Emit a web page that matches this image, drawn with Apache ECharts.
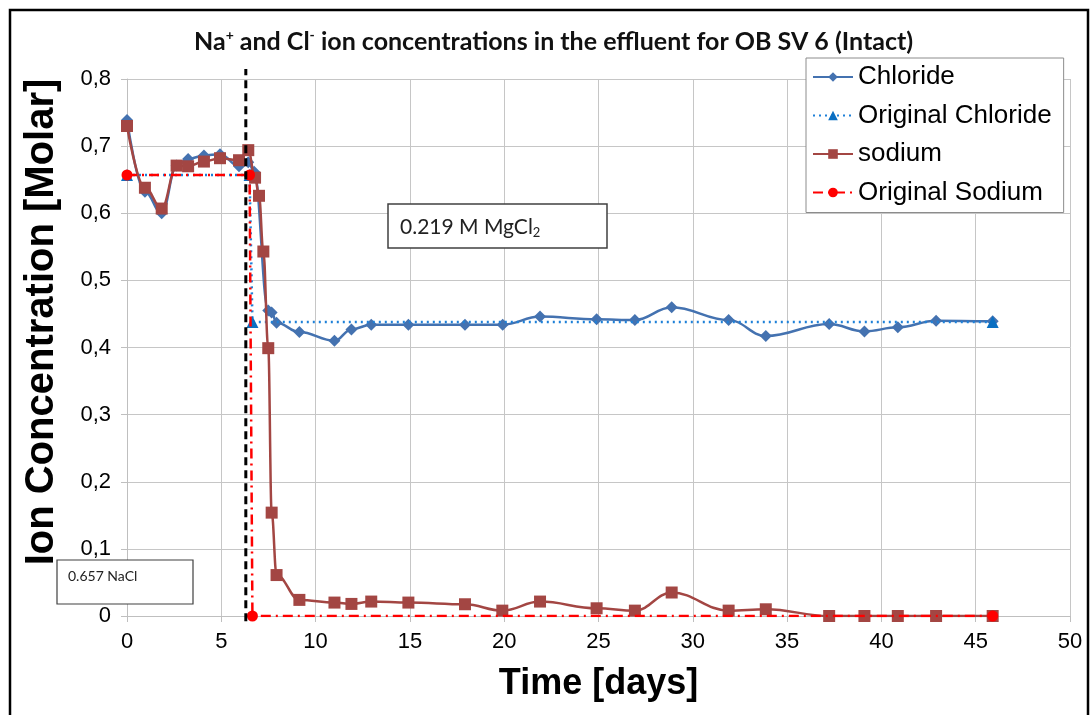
<!DOCTYPE html>
<html>
<head>
<meta charset="utf-8">
<script src="https://cdn.jsdelivr.net/npm/echarts@6/dist/echarts.min.js"></script>
<style>
  html, body { margin: 0; padding: 0; background: #fff; }
  #chart { width: 1092px; height: 715px; }
</style>
</head>
<body>
<div id="chart"></div>
<script>
// Measured effluent concentrations (days since start, Molar)
const chlorideDays = [0, 0.95, 1.84, 2.63, 3.24, 4.08, 4.93, 5.94, 6.43, 6.74, 7.49, 7.67, 7.93, 9.14, 11.0, 11.9, 12.95, 14.92, 17.92, 19.92, 21.9, 24.9, 26.93, 28.88, 31.9, 33.87, 37.23, 39.1, 40.87, 42.9, 45.9];
const chloride     = [0.739, 0.632, 0.600, 0.671, 0.681, 0.686, 0.688, 0.670, 0.676, 0.662, 0.455, 0.452, 0.437, 0.423, 0.410, 0.427, 0.434, 0.434, 0.434, 0.434, 0.446, 0.442, 0.441, 0.460, 0.441, 0.417, 0.435, 0.424, 0.430, 0.440, 0.439];

const sodiumDays = [0, 0.95, 1.84, 2.63, 3.24, 4.08, 4.93, 5.94, 6.43, 6.79, 7.0, 7.23, 7.49, 7.67, 7.93, 9.14, 11.0, 11.9, 12.95, 14.92, 17.92, 19.9, 21.9, 24.9, 26.93, 28.88, 31.9, 33.87, 37.23, 39.1, 40.87, 42.9, 45.9];
const sodium     = [0.730, 0.638, 0.607, 0.671, 0.670, 0.677, 0.682, 0.679, 0.694, 0.653, 0.626, 0.543, 0.399, 0.154, 0.061, 0.024, 0.020, 0.018, 0.0215, 0.020, 0.0175, 0.008, 0.0215, 0.0115, 0.008, 0.035, 0.008, 0.010, 0, 0, 0, 0, 0];

// Injected solution composition (0.657 M NaCl, then 0.219 M MgCl2)
const originalDays     = [0, 6.5, 6.65, 45.9];
const originalChloride = [0.657, 0.657, 0.438, 0.438];
const originalSodium   = [0.657, 0.657, 0, 0];

// Day the feed was switched to MgCl2
const switchDay = 6.3;

const legendNames = ['Chloride', 'Original Chloride', 'sodium', 'Original Sodium'];

const pairs = (xs, ys) => xs.map((x, i) => [x, ys[i]]);

const FONT = 'Liberation Sans, Arial, sans-serif';
const CAL = 'Lato, "Open Sans", sans-serif';

const chart = echarts.init(document.getElementById('chart'), null, { renderer: 'canvas' });

chart.setOption({
  animation: false,
  backgroundColor: '#ffffff',
  title: {
    left: 189,
    top: 23,
    text: '{b|Na}{sup|+}{b| and Cl}{sup|-}{b| ion concentrations in the effluent for OB SV 6 (Intact)}',
    textStyle: {
      rich: {
        b: { fontFamily: CAL, fontWeight: 'bold', fontSize: 25, color: '#111', lineHeight: 28 },
        sup: { fontFamily: CAL, fontWeight: 'bold', fontSize: 14, color: '#111', lineHeight: 14, verticalAlign: 'top' }
      }
    }
  },
  grid: { left: 127, right: 22, top: 79, bottom: 99, containLabel: false },
  legend: {
    orient: 'vertical',
    left: 806,
    top: 58,
    data: legendNames,
    itemWidth: 40,
    itemHeight: 12,
    itemGap: 12.5,
    padding: [6, 12, 7, 6],
    backgroundColor: '#ffffff',
    borderColor: '#8c8c8c',
    borderWidth: 1,
    borderRadius: 0,
    textStyle: { fontFamily: FONT, fontSize: 26, color: '#000', lineHeight: 26 }
  },
  xAxis: {
    type: 'value',
    min: 0,
    max: 50,
    interval: 5,
    name: 'Time [days]',
    nameLocation: 'middle',
    nameGap: 50,
    nameTextStyle: { fontFamily: FONT, fontWeight: 'bold', fontSize: 36, color: '#000' },
    axisLine: { show: true, lineStyle: { color: '#bfbfbf', width: 1 } },
    axisTick: { show: true, length: 6, lineStyle: { color: '#bfbfbf' } },
    axisLabel: { fontFamily: FONT, fontSize: 22, color: '#000', margin: 15 },
    splitLine: { show: true, lineStyle: { color: '#c6c6c6', width: 1 } }
  },
  yAxis: {
    type: 'value',
    min: 0,
    max: 0.8,
    interval: 0.1,
    axisLine: { show: true, lineStyle: { color: '#bfbfbf', width: 1 } },
    axisTick: { show: true, length: 6, lineStyle: { color: '#bfbfbf' } },
    axisLabel: {
      fontFamily: FONT, fontSize: 22, color: '#000', margin: 16,
      formatter: v => (v === 0 ? '0' : v.toFixed(1).replace('.', ','))
    },
    splitLine: { show: true, lineStyle: { color: '#c6c6c6', width: 1 } }
  },
  graphic: [
    // outer frame
    { type: 'rect', silent: true, z: 0, shape: { x: 10, y: 10, width: 1078, height: 730 },
      style: { fill: 'none', stroke: '#000', lineWidth: 2.5 } },
    // y axis title
    { type: 'text', silent: true, x: 42, y: 322, rotation: Math.PI / 2, z: 5,
      style: { text: 'Ion Concentration [Molar]', fontFamily: FONT, fontWeight: 'bold', fontSize: 40,
               fill: '#000', align: 'center', verticalAlign: 'middle' } },
    // MgCl2 annotation
    { type: 'rect', silent: true, z: 20, shape: { x: 388, y: 204, width: 219, height: 44 },
      style: { fill: '#fff', stroke: '#404040', lineWidth: 1.5 } },
    { type: 'text', silent: true, z: 21, x: 400, y: 227,
      style: { text: '{t|0.219 M MgCl}{s|2}', verticalAlign: 'middle', align: 'left',
               rich: { t: { fontFamily: CAL, fontSize: 21, fill: '#222', lineHeight: 24 },
                       s: { fontFamily: CAL, fontSize: 13, fill: '#222', lineHeight: 13, verticalAlign: 'bottom', padding: [10, 0, 0, 0] } } } },
    // NaCl annotation
    { type: 'rect', silent: true, z: 20, shape: { x: 57, y: 560, width: 136, height: 44 },
      style: { fill: '#fff', stroke: '#404040', lineWidth: 1.2 } },
    { type: 'text', silent: true, z: 21, x: 68, y: 576,
      style: { text: '0.657 NaCl', fontFamily: CAL, fontSize: 14, fill: '#222', align: 'left', verticalAlign: 'middle' } }
  ],
  series: [
    {
      name: 'Chloride',
      type: 'line',
      data: pairs(chlorideDays, chloride),
      smooth: 0.4,
      smoothMonotone: 'x',
      symbol: 'diamond',
      symbolSize: 12,
      itemStyle: { color: '#4472B0' },
      lineStyle: { color: '#4472B0', width: 2.5 },
      z: 3
    },
    {
      name: 'Original Chloride',
      type: 'line',
      data: pairs(originalDays, originalChloride),
      symbol: 'triangle',
      symbolSize: 12,
      itemStyle: { color: '#0A6FC2' },
      lineStyle: { color: '#1E80D8', width: 2.5, type: [2, 4] },
      z: 4
    },
    {
      name: 'sodium',
      type: 'line',
      data: pairs(sodiumDays, sodium),
      smooth: 0.4,
      smoothMonotone: 'x',
      symbol: 'rect',
      symbolSize: 12,
      itemStyle: { color: '#A34643' },
      lineStyle: { color: '#A34643', width: 2.5 },
      z: 5
    },
    {
      name: 'Original Sodium',
      type: 'line',
      data: pairs(originalDays, originalSodium),
      symbol: 'circle',
      symbolSize: 11,
      itemStyle: { color: '#FF0000' },
      lineStyle: { color: '#FF0000', width: 2.5, type: [10, 5, 2, 5] },
      z: 6
    },
    {
      name: 'switch',
      type: 'line',
      data: [[switchDay, -0.008], [switchDay, 0.815]],
      clip: false,
      symbol: 'none',
      silent: true,
      lineStyle: { color: '#000', width: 3, type: [8, 5] },
      z: 7
    }
  ]
});
</script>
</body>
</html>
